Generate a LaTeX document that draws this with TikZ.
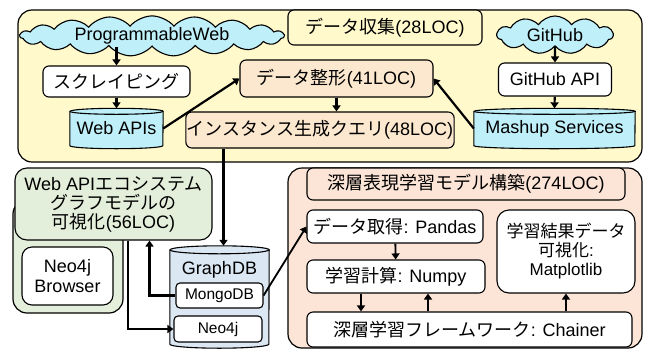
\documentclass[tikz,border=0pt]{standalone}
\usepackage{fontspec}
\setmainfont{Liberation Sans}
\newfontfamily\jpfont{Noto Sans CJK JP}
\newcommand{\ja}[1]{{\jpfont #1}}
\usepackage{tikz}
\usetikzlibrary{shapes.symbols,arrows.meta}
\definecolor{collectYellow}{HTML}{FFF9CC}
\definecolor{tidyPeach}{HTML}{FCE8CE}
\definecolor{sourceCyan}{HTML}{BFEFF8}
\definecolor{graphBlue}{HTML}{DCE7F4}
\definecolor{visGreen}{HTML}{E3EFDA}
\definecolor{deepSalmon}{HTML}{FCE4D6}
\pgfdeclarelayer{back}
\pgfdeclarelayer{drums}
\pgfsetlayers{back,drums,main}
% drum behind a node: node, fill, x radius, y radius
\newcommand{\drum}[4]{%
  \begin{pgfonlayer}{drums}
    \draw[line width=1.1pt, fill=#2] (#1.north west) -- (#1.south west)
      arc[start angle=180, end angle=0, x radius=#3, y radius=#4] -- (#1.north east)
      arc[start angle=0, end angle=-180, x radius=#3, y radius=#4] -- cycle;
    \draw[line width=1.1pt] (#1.north west) arc[start angle=180, end angle=0, x radius=#3, y radius=#4];
  \end{pgfonlayer}}

\begin{document}
\begin{tikzpicture}[x=1pt,y=-1pt,>={Triangle[length=6pt,width=8pt]},
  panel/.style={draw, line width=1.2pt, rounded corners=14pt},
  box/.style={draw, line width=1.1pt, rounded corners=6pt, fill=white, inner sep=1pt,
    align=center, font=\fontsize{18}{20}\selectfont},
  smallbox/.style={box, rounded corners=4pt, font=\fontsize{15.5}{17}\selectfont},
  dbtext/.style={inner sep=1pt, font=\fontsize{18}{20}\selectfont},
  webcloud/.style={draw, line width=1.1pt, cloud, cloud ignores aspect, fill=sourceCyan,
    inner sep=0pt, font=\fontsize{18}{20}\selectfont},
  flow/.style={->, line width=2.2pt},
  thinflow/.style={->, line width=1.8pt}]
  \useasboundingbox (0,0) rectangle (648,349);
  % ------- panels -------
  \begin{pgfonlayer}{back}
    \draw[panel, fill=collectYellow] (18,10) rectangle (642,162);
    \draw[panel, fill=visGreen] (13,200) rectangle (123,313);
    \draw[panel, fill=deepSalmon] (288,168) rectangle (642,348);
  \end{pgfonlayer}
  % ------- data collection -------
  \node[box, fill=collectYellow, minimum width=194, minimum height=35] (collect) at (385,27.5) {\ja{データ収集}(28LOC)};
  \node[webcloud, cloud puffs=19, cloud puff arc=100, minimum width=264, minimum height=32] (pweb) at (152,36) {ProgrammableWeb};
  \node[webcloud, cloud puffs=11, cloud puff arc=110, minimum width=116, minimum height=38] (github) at (555,35) {GitHub};
  \node[box, minimum width=147, minimum height=31] (scrape) at (116.5,81.5) {\ja{スクレイピング}};
  \node[dbtext, minimum width=93, minimum height=34] (webapis) at (116.5,128.5) {Web APIs};
  \drum{webapis}{sourceCyan}{46.5}{3}
  \node[box, fill=tidyPeach, minimum width=193, minimum height=37] (tidy) at (336.5,78.5) {\ja{データ整形}(41LOC)};
  \node[box, fill=tidyPeach, minimum width=260, minimum height=36] (query) at (320,130) {\ja{インスタンス生成クエリ}(48LOC)};
  \node[box, minimum width=113, minimum height=33] (ghapi) at (555,79.5) {GitHub API};
  \node[dbtext, minimum width=161, minimum height=34] (mashup) at (554.5,128.5) {Mashup Services};
  \drum{mashup}{sourceCyan}{80.5}{3}
  % ------- visualisation -------
  \node[box, fill=visGreen, rounded corners=12pt, minimum width=197, minimum height=72,
    font=\fontsize{18}{19}\selectfont] (vis) at (113.5,204) {Web API\ja{エコシステム}\\\ja{グラフモデルの}\\\ja{可視化}(56LOC)};
  \node[box, rounded corners=10pt, minimum width=91, minimum height=58] (browser) at (67.5,276) {Neo4j\\Browser};
  \node[dbtext, minimum width=99, minimum height=94,
    label={[anchor=north, yshift=-8pt, font=\fontsize{18}{20}\selectfont]north:GraphDB}] (gdb) at (219.5,297) {};
  \drum{gdb}{graphBlue}{49.5}{4}
  \node[smallbox, minimum width=87, minimum height=25] (mongo) at (219.5,295.5) {MongoDB};
  \node[smallbox, minimum width=88, minimum height=26] (neo) at (218,329) {Neo4j};
  % ------- deep representation learning -------
  \node[box, fill=deepSalmon, minimum width=318, minimum height=32] (deep) at (466,184) {\ja{深層表現学習モデル構築}(274LOC)};
  \node[box, minimum width=176, minimum height=33] (fetch) at (395,226.5) {\ja{データ取得}: Pandas};
  \node[box, minimum width=178, minimum height=33] (calc) at (396,276.5) {\ja{学習計算}: Numpy};
  \node[box, rounded corners=12pt, minimum width=138, minimum height=83,
    font=\fontsize{17}{19}\selectfont] (plot) at (566,251.5) {\ja{学習結果データ}\\\ja{可視化}:\\Matplotlib};
  \node[box, minimum width=325, minimum height=35] (chainer) at (469.5,329.5) {\ja{深層学習フレームワーク}: Chainer};
  % ------- connectors -------
  \draw[flow] (scrape.north |- pweb.south) -- (scrape.north);
  \draw[flow] (scrape) -- ([yshift=3pt]webapis.north);
  \draw[flow] (github) -- (ghapi);
  \draw[flow] (ghapi) -- ([yshift=3pt]mashup.north);
  \draw[flow] (webapis.east) -- (tidy.west);
  \draw[flow] (mashup.west) -- (tidy.east);
  \draw[flow] (tidy) -- (tidy |- query.north);
  \draw[flow] ([xshift=4pt]gdb.north |- query.south) -- ([xshift=4pt,yshift=4pt]gdb.north);
  \draw[flow] (mongo.west) -| ([xshift=36pt]vis.south);
  \draw[flow] ([xshift=14.5pt]vis.south) |- (neo.west);
  \draw[thinflow] (mongo.east) -- (fetch.west);
  \draw[thinflow] (fetch) -- (calc);
  \draw[thinflow] ([xshift=-35pt]calc.south) -- ([xshift=-35pt]calc.south |- chainer.north);
  \draw[thinflow] ([xshift=32pt]calc.south |- chainer.north) -- ([xshift=32pt]calc.south);
  \draw[thinflow] (plot.south |- chainer.north) -- (plot.south);
\end{tikzpicture}
\end{document}
